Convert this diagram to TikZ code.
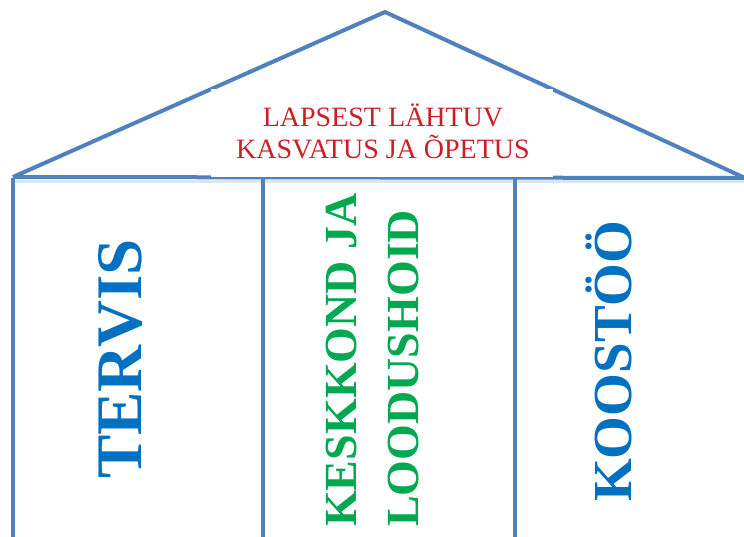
\documentclass[tikz,border=0pt]{standalone}
\usepackage{fontspec}
\setmainfont{Liberation Serif}
\usepackage{xcolor}
\usetikzlibrary{positioning}

\definecolor{wallblue}{RGB}{79,129,189}
\definecolor{titlered}{RGB}{204,30,40}
\definecolor{pillarblue}{RGB}{0,112,192}
\definecolor{pillargreen}{RGB}{0,168,80}

\begin{document}
\begin{tikzpicture}[x=1pt, y=-1pt]
        \tikzset{
            wall/.style={draw=wallblue, line width=4pt, line join=miter},
            wallshadow/.style={draw=wallblue!20, line width=3pt},
            roofpatch/.style={fill=white, inner sep=0pt, minimum width=342pt, minimum height=88pt},
            rooftitle/.style={inner sep=0pt, align=center, text=titlered, font=\fontsize{28}{32}\selectfont},
            pillartext/.style={rotate=90, inner sep=0pt, anchor=west, font=\bfseries}
        }
        \useasboundingbox (0,0) rectangle (744,537);

        % house outline
        \coordinate (eaveL) at (13,177);
        \coordinate (apex) at (385,12);
        \coordinate (eaveR) at (745,178);
        \coordinate (colA) at (13,178);
        \coordinate (colB) at (263,178);
        \coordinate (colC) at (515,178);

        \draw [wallshadow] (15,182) -- (744,182);
        \draw [wall] (eaveL) -- (apex) -- (eaveR);
        \draw [wall] (eaveL) -- (eaveR);
        \foreach \col in {colA, colB, colC}
            \draw [wall] (\col) -- ++(0,364);

        % roof text
        \node [roofpatch] (patch) at (382,133) {};
        \node [rooftitle] (title) at (383,131.5) {LAPSEST LÄHTUV\\KASVATUS JA ÕPETUS};

        % pillars
        \node [pillartext, text=pillarblue, font=\fontsize{65}{70}\selectfont\bfseries] (health) at (120.5,479) {TERVIS};
        \node [pillartext, text=pillargreen, align=left, font=\fontsize{46}{62}\selectfont\bfseries] (nature) at (372.5,527) {KESKKOND JA\\LOODUSHOID};
        \node [pillartext, text=pillarblue, font=\fontsize{55}{60}\selectfont\bfseries] (teamwork) at (609,502) {KOOSTÖÖ};
    \end{tikzpicture}
\end{document}
